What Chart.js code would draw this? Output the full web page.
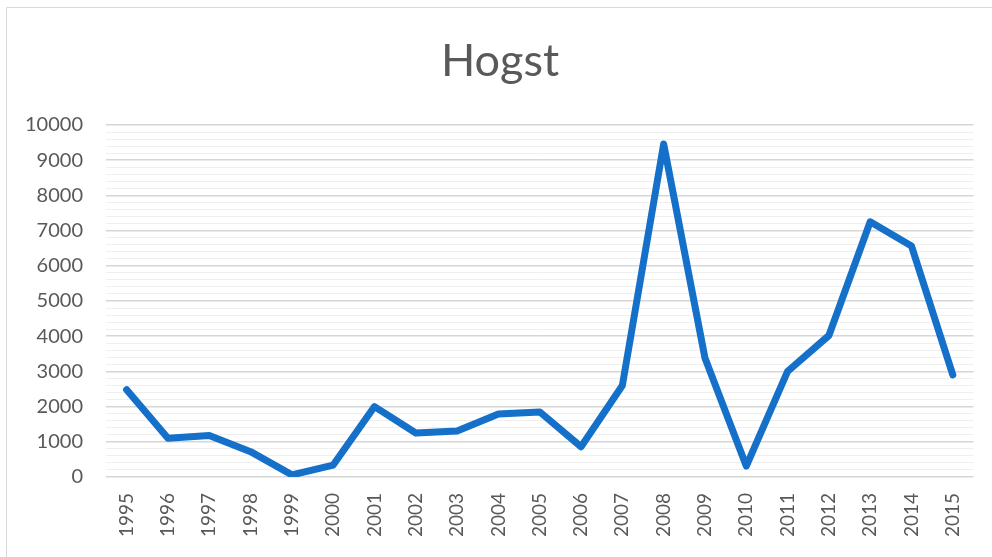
<!DOCTYPE html>
<html>
<head>
<meta charset="utf-8">
<script src="https://cdn.jsdelivr.net/npm/chart.js@4.4.1/dist/chart.umd.min.js"></script>
<style>
    html, body { margin: 0; padding: 0; background: #ffffff; }
    #wrap { width: 992px; height: 557px; position: relative; }
</style>
</head>
<body>
<div id="wrap"><canvas id="hogst-chart"></canvas></div>
<script>
const years = ['1995', '1996', '1997', '1998', '1999', '2000', '2001', '2002', '2003', '2004', '2005',
    '2006', '2007', '2008', '2009', '2010', '2011', '2012', '2013', '2014', '2015'];
const hogst = [2480, 1100, 1180, 720, 60, 340, 2000, 1250, 1310, 1790, 1850,
    860, 2600, 9460, 3380, 310, 3000, 4020, 7250, 6560, 2900];

const chartColors = {
    line: '#1470c8',
    major: '#d6d6d6',
    minor: '#efefef',
    text: '#595959',
    frame: '#d9d9d9'
};

Chart.defaults.font.family = "Lato, 'Open Sans', sans-serif";
Chart.defaults.color = chartColors.text;

// frame lines of the chart box (top and left edge)
const framePlugin = {
    id: 'frame',
    beforeDraw(chart) {
        const c = chart.ctx;
        c.save();
        c.strokeStyle = chartColors.frame;
        c.lineWidth = 1;
        c.beginPath();
        c.moveTo(6.5, chart.height);
        c.lineTo(6.5, 7.5);
        c.lineTo(chart.width, 7.5);
        c.stroke();
        c.restore();
    }
};

new Chart(document.getElementById('hogst-chart'), {
    type: 'line',
    data: {
        labels: years,
        datasets: [{
            label: 'Hogst',
            data: hogst,
            borderColor: chartColors.line,
            borderWidth: 7,
            borderJoinStyle: 'round',
            borderCapStyle: 'round',
            pointRadius: 0,
            tension: 0,
            fill: false
        }]
    },
    options: {
        responsive: true,
        maintainAspectRatio: false,
        animation: false,
        layout: { padding: { left: 24, right: 16, top: 0, bottom: 0 } },
        plugins: {
            legend: { display: false },
            tooltip: { enabled: false },
            title: {
                display: true,
                text: 'Hogst',
                color: chartColors.text,
                font: { size: 45, weight: 'normal' },
                padding: { top: 34, bottom: 37 }
            }
        },
        scales: {
            x: {
                offset: true,
                grid: { display: false, drawTicks: false },
                border: { display: false },
                ticks: {
                    minRotation: 90,
                    maxRotation: 90,
                    padding: 16,
                    autoSkip: false,
                    font: { size: 19 }
                },
                afterFit: scale => { scale.height = 80; }
            },
            y: {
                min: 0,
                max: 10000,
                border: { display: false },
                grid: {
                    drawTicks: false,
                    color: ctx => (ctx.tick.value % 1000 === 0 ? chartColors.major : chartColors.minor),
                    lineWidth: ctx => (ctx.tick.value % 1000 === 0 ? 1.5 : 1)
                },
                ticks: {
                    stepSize: 200,
                    autoSkip: false,
                    padding: 23,
                    font: { size: 20 },
                    callback: v => (v % 1000 === 0 ? v : '')
                },
                afterFit: scale => { scale.width = 82; }
            }
        }
    },
    plugins: [framePlugin]
});
</script>
</body>
</html>
